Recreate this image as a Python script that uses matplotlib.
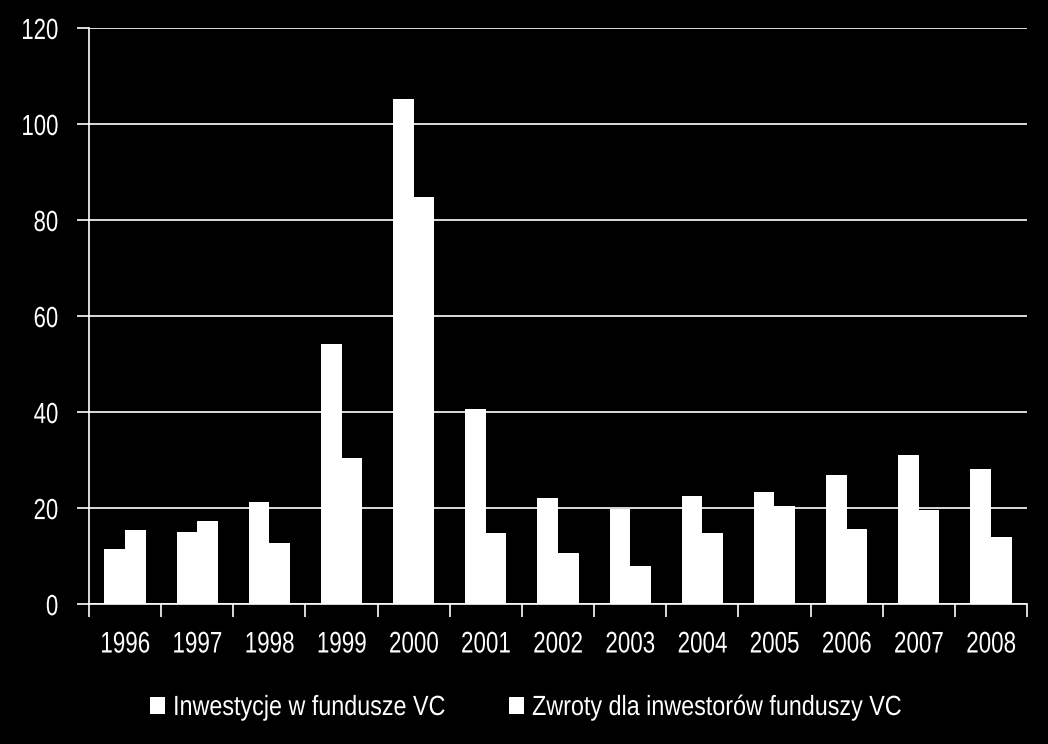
import matplotlib
matplotlib.use('Agg')
import matplotlib.pyplot as plt
import numpy as np
from matplotlib.patheffects import AbstractPathEffect
from matplotlib.transforms import Affine2D
from matplotlib.patches import Patch

years = ['1996', '1997', '1998', '1999', '2000', '2001', '2002',
         '2003', '2004', '2005', '2006', '2007', '2008']
investments = [11.5, 15.0, 21.2, 54.2, 105.2, 40.6, 22.1, 19.8, 22.5, 23.3, 26.9, 31.0, 28.1]
returns = [15.4, 17.3, 12.7, 30.4, 84.8, 14.8, 10.6, 7.9, 14.8, 20.4, 15.6, 19.6, 14.0]
yticks = [0, 20, 40, 60, 80, 100, 120]
series_names = ['Inwestycje w fundusze VC', 'Zwroty dla inwestorów funduszy VC']

plt.rcParams['font.family'] = ['Liberation Sans', 'DejaVu Sans']


class Squeeze(AbstractPathEffect):
    """Squeeze text horizontally (no narrow font installed)."""

    def __init__(self, sx, anchor='center'):
        super().__init__()
        self.sx = sx
        self.anchor = anchor

    def draw_path(self, renderer, gc, tpath, affine, rgbFace=None):
        ext = tpath.get_extents()
        if self.anchor == 'left':
            a = 0.0
        elif self.anchor == 'right':
            a = ext.x1
        else:
            a = (ext.x0 + ext.x1) / 2
        t = Affine2D().translate(-a, 0).scale(self.sx, 1).translate(a, 0) + affine
        renderer.draw_path(gc, tpath, t, rgbFace)


fig = plt.figure(figsize=(10.48, 7.44), dpi=100, facecolor='black')
ax = fig.add_axes([0.0849, 0.188, 0.8951, 0.7744], facecolor='black')

x = np.arange(len(years))
w = 0.285
ax.bar(x - w / 2, investments, w, color='white', zorder=3)
ax.bar(x + w / 2, returns, w, color='white', zorder=3)

ax.set_xlim(-0.5, len(years) - 0.5)
ax.set_ylim(0, 120)
ax.set_yticks(yticks)
ax.set_yticklabels([str(v) for v in yticks])
ax.yaxis.grid(True, color='white', linewidth=1.2, zorder=1)

# category labels centred, tick marks at the boundaries
ax.set_xticks(x)
ax.set_xticklabels(years)
ax.set_xticks(np.arange(len(years) + 1) - 0.5, minor=True)
ax.tick_params(axis='x', which='major', length=0, pad=19, labelsize=21.5, colors='white')
ax.tick_params(axis='x', which='minor', length=9, width=1.2, color='white', direction='out')
ax.tick_params(axis='y', length=9, width=1.2, color='white', labelsize=21, labelcolor='white', pad=13)

for lab in ax.get_xticklabels():
    lab.set_path_effects([Squeeze(0.75, 'center')])
for lab in ax.get_yticklabels():
    lab.set_path_effects([Squeeze(0.76, 'right')])

for s in ['top', 'right']:
    ax.spines[s].set_visible(False)
for s in ['left', 'bottom']:
    ax.spines[s].set_color('white')
    ax.spines[s].set_linewidth(1.2)

# two legend entries placed separately so the squeezed text lines up
leg_x = [150 / 1048, 509 / 1048]
leg_y = (744 - 708) / 744
for name, lx in zip(series_names, leg_x):
    leg = fig.legend(handles=[Patch(facecolor='white', edgecolor='none')], labels=[name],
                     loc='center left', bbox_to_anchor=(lx, leg_y), frameon=False,
                     fontsize=20, handlelength=0.55, handleheight=0.55, handletextpad=0.28,
                     borderpad=0, borderaxespad=0)
    for t in leg.get_texts():
        t.set_color('white')
        t.set_path_effects([Squeeze(0.84, 'left')])

fig.savefig('out.png', dpi=100, facecolor='black')
